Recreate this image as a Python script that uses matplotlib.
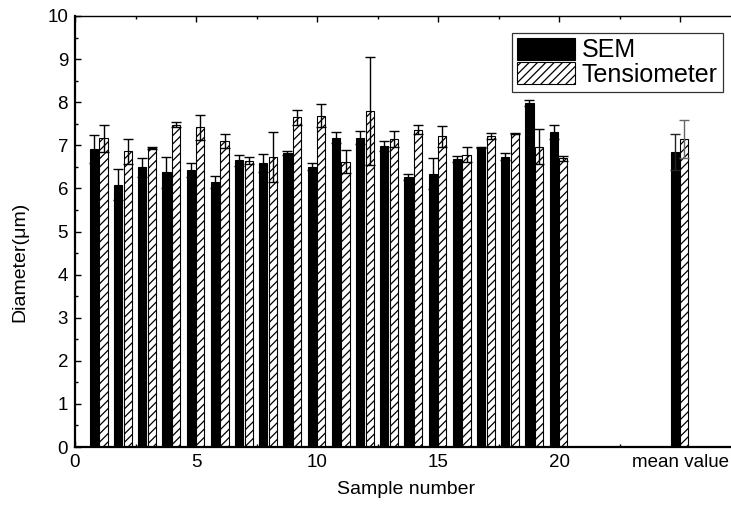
import matplotlib
matplotlib.use("Agg")
import matplotlib.pyplot as plt
import numpy as np
from matplotlib.ticker import MultipleLocator

plt.rcParams['font.family'] = ['Liberation Sans', 'DejaVu Sans']
plt.rcParams['hatch.linewidth'] = 0.9

samples = list(range(1, 21))
sem = [6.91, 6.09, 6.49, 6.37, 6.43, 6.15, 6.65, 6.59, 6.82, 6.50,
       7.18, 7.18, 6.98, 6.27, 6.34, 6.69, 6.95, 6.74, 7.99, 7.31]
sem_err = [0.32, 0.35, 0.22, 0.35, 0.16, 0.14, 0.12, 0.20, 0.04, 0.08,
           0.12, 0.16, 0.11, 0.07, 0.36, 0.07, 0.02, 0.07, 0.07, 0.17]
tens = [7.16, 6.86, 6.94, 7.48, 7.42, 7.10, 6.64, 6.73, 7.65, 7.69,
        6.62, 7.79, 7.15, 7.36, 7.21, 6.78, 7.21, 7.27, 6.97, 6.70]
tens_err = [0.32, 0.29, 0.03, 0.05, 0.29, 0.16, 0.08, 0.58, 0.17, 0.26,
            0.26, 1.25, 0.19, 0.10, 0.24, 0.17, 0.07, 0.01, 0.41, 0.06]
mean_pos = 25
sem_mean, sem_mean_err = 6.85, 0.42
tens_mean, tens_mean_err = 7.14, 0.44

xticks = [0, 5, 10, 15, 20, 25]
xticklabels = ['0', '5', '10', '15', '20', 'mean value']
yticks = list(range(0, 11))

fig = plt.figure(figsize=(7.31, 5.08), dpi=100)
W, H = 731, 508
x0, y0, y1 = 75, 447, 16
xmax = 27.5
pxu = 24.2
ax = fig.add_axes([x0 / W, (H - y0) / H, xmax * pxu / W, (y0 - y1) / H])

xs = np.array(samples, dtype=float)
w = 0.34
off_s, off_t = -0.22, 0.18
ax.bar(xs + off_s, sem, width=w, color='black', edgecolor='black',
       linewidth=0.8, label='SEM', zorder=2)
ax.bar(xs + off_t, tens, width=w, color='white', edgecolor='black',
       hatch='////', linewidth=0.8, label='Tensiometer', zorder=2)
ax.errorbar(xs + off_s, sem, yerr=sem_err, fmt='none', ecolor='black',
            elinewidth=1.0, capsize=3.6, capthick=1.0, zorder=3)
ax.errorbar(xs + off_t, tens, yerr=tens_err, fmt='none', ecolor='black',
            elinewidth=1.0, capsize=3.6, capthick=1.0, zorder=3)

# mean value group
ax.bar([mean_pos + off_s], [sem_mean], width=w, color='black', edgecolor='black',
       linewidth=0.8, zorder=2)
ax.bar([mean_pos + off_t], [tens_mean], width=w, color='white', edgecolor='black',
       hatch='////', linewidth=0.8, zorder=2)
ax.errorbar([mean_pos + off_s], [sem_mean], yerr=[sem_mean_err], fmt='none',
            ecolor='#222222', elinewidth=1.0, capsize=3.6, capthick=1.0, zorder=3)
ax.errorbar([mean_pos + off_t], [tens_mean], yerr=[tens_mean_err], fmt='none',
            ecolor='#666666', elinewidth=1.0, capsize=3.6, capthick=1.0, zorder=3)

ax.set_xlim(0, xmax)
ax.set_ylim(0, 10)
ax.set_xticks(xticks)
ax.set_xticklabels(xticklabels)
ax.set_yticks(yticks)
ax.xaxis.set_minor_locator(MultipleLocator(2.5))
ax.yaxis.set_minor_locator(MultipleLocator(0.5))
ax.tick_params(axis='both', which='major', direction='in', length=4, width=1,
               labelsize=13.5, top=True, right=False)
ax.tick_params(axis='both', which='minor', direction='in', length=2.5, width=1,
               top=True, right=False)
ax.tick_params(axis='x', pad=5)
ax.tick_params(axis='y', pad=5)
ax.spines['left'].set_linewidth(1.6)
ax.spines['bottom'].set_linewidth(1.6)
ax.spines['top'].set_linewidth(1.0)
ax.spines['right'].set_visible(False)

fig.text(406 / W, 1 - 490 / H, 'Sample number', ha='center', va='center', fontsize=14)
fig.text(20 / W, 1 - 262 / H, 'Diameter(μm)', ha='center', va='center',
         rotation=90, fontsize=14)

leg = ax.legend(loc='upper right', bbox_to_anchor=(723 / W, 1 - 33 / H),
                bbox_transform=fig.transFigure, fontsize=18, frameon=True,
                fancybox=False, handlelength=2.3, handleheight=0.95,
                labelspacing=0.0, borderpad=0.2, handletextpad=0.3,
                borderaxespad=0)
leg.get_frame().set_edgecolor('black')
leg.get_frame().set_linewidth(0.9)

fig.savefig('out.png', dpi=100)
